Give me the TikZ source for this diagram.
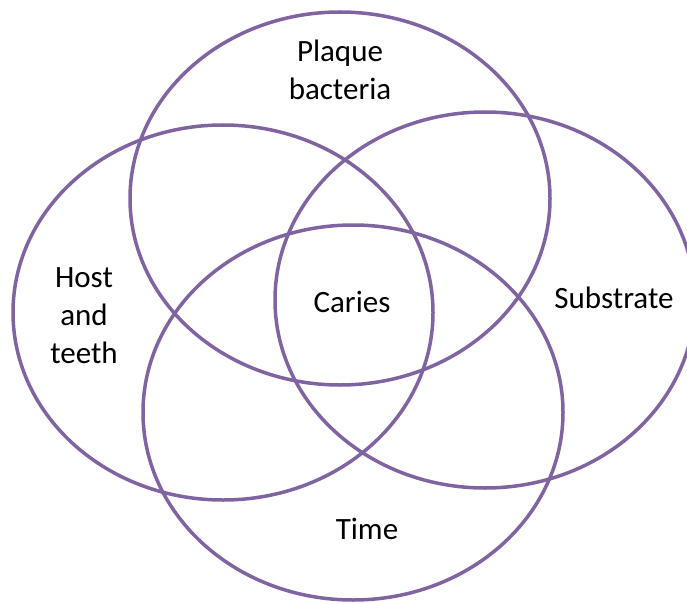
\documentclass[tikz,border=0pt]{standalone}
\usepackage{fontspec}
\setmainfont{Carlito}
\definecolor{vennpurple}{RGB}{128,100,162}
\begin{document}
\begin{tikzpicture}[x=1pt,y=-1pt,
  ring/.style={draw=vennpurple,line width=3.5pt},
  lbl/.style={align=center,inner sep=0pt,anchor=base,font=\fontsize{31}{37.6}\selectfont}]
\useasboundingbox (0,0) rectangle (687,604);
\clip (0,0) rectangle (687,604);
\draw[ring] (340,198.5) ellipse [x radius=210,y radius=186.5];
\draw[ring] (223,312.5) ellipse [x radius=210,y radius=187.5];
\draw[ring] (485,300) ellipse [x radius=210,y radius=188];
\draw[ring] (353,412.5) ellipse [x radius=210,y radius=187.5];
\node[lbl] (plaque) at (340,99.3) {Plaque\\bacteria};
\node[lbl] (host) at (84,363) {Host\\and\\teeth};
\node[lbl] (substrate) at (614,308) {Substrate};
\node[lbl] (caries) at (352,312) {Caries};
\node[lbl] (time) at (367,539) {Time};
\end{tikzpicture}
\end{document}
